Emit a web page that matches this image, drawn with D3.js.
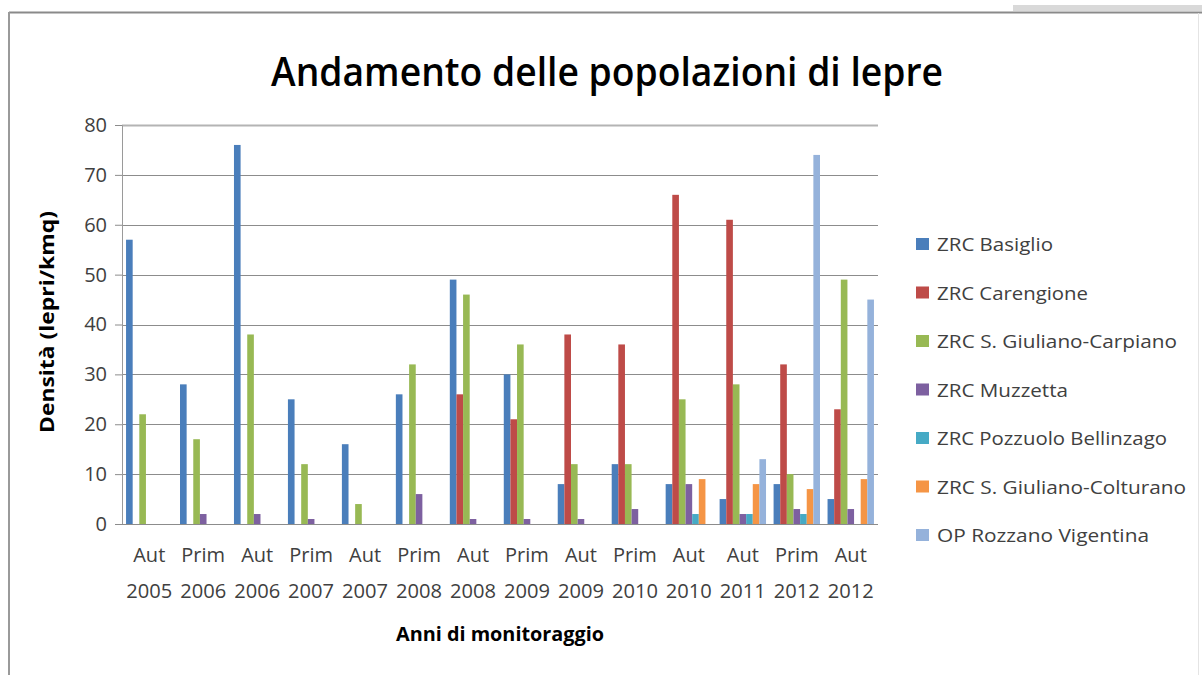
<!DOCTYPE html>
<html>
<head>
<meta charset="utf-8">
<script src="https://cdn.jsdelivr.net/npm/d3@7"></script>
<style>
  html, body { margin: 0; padding: 0; background: #ffffff; }
  svg { display: block; }
  text { font-family: "Open Sans", "Noto Sans", sans-serif; }
</style>
</head>
<body>
<svg id="chart" width="1202" height="675"></svg>
<script>
// ---- data ----
const seasons = ["Aut","Prim","Aut","Prim","Aut","Prim","Aut","Prim","Aut","Prim","Aut","Aut","Prim","Aut"];
const years   = ["2005","2006","2006","2007","2007","2008","2008","2009","2009","2010","2010","2011","2012","2012"];
const seriesNames = [
  "ZRC Basiglio",
  "ZRC Carengione",
  "ZRC S. Giuliano-Carpiano",
  "ZRC Muzzetta",
  "ZRC Pozzuolo Bellinzago",
  "ZRC S. Giuliano-Colturano",
  "OP Rozzano Vigentina"
];
const basiglio   = [57,28,76,25,16,26,49,30, 8,12, 8, 5, 8, 5];
const carengione = [ 0, 0, 0, 0, 0, 0,26,21,38,36,66,61,32,23];
const carpiano   = [22,17,38,12, 4,32,46,36,12,12,25,28,10,49];
const muzzetta   = [ 0, 2, 2, 1, 0, 6, 1, 1, 1, 3, 8, 2, 3, 3];
const pozzuolo   = [ 0, 0, 0, 0, 0, 0, 0, 0, 0, 0, 2, 2, 2, 0];
const colturano  = [ 0, 0, 0, 0, 0, 0, 0, 0, 0, 0, 9, 8, 7, 9];
const rozzano    = [ 0, 0, 0, 0, 0, 0, 0, 0, 0, 0, 0,13,74,45];
const yTicks = [0,10,20,30,40,50,60,70,80];

const seriesValues = [basiglio, carengione, carpiano, muzzetta, pozzuolo, colturano, rozzano];
const colors = ["#4A7EBB","#BE4B48","#98B954","#7D60A0","#46AAC5","#F59545","#95B2DB"];

// ---- layout ----
const svg = d3.select("#chart");
const plot = { left: 122, right: 878, top: 125, bottom: 524 };

// frame
svg.append("rect").attr("x", 1013).attr("y", 5).attr("width", 189).attr("height", 6).attr("fill", "#d9d9d9");
svg.append("line").attr("x1", 9).attr("x2", 1202).attr("y1", 12.5).attr("y2", 12.5).attr("stroke", "#8a8a8a").attr("stroke-width", 2);
svg.append("line").attr("x1", 9).attr("x2", 9).attr("y1", 12).attr("y2", 675).attr("stroke", "#9a9a9a").attr("stroke-width", 2);
svg.append("line").attr("x1", 1198.5).attr("x2", 1198.5).attr("y1", 13).attr("y2", 675).attr("stroke", "#e4e4e4").attr("stroke-width", 1);

const indices = d3.range(seasons.length);
const x0 = d3.scaleBand().domain(indices).range([plot.left, plot.right]).paddingInner(0.14).paddingOuter(0.075);
const x1 = d3.scaleBand().domain(d3.range(seriesNames.length)).range([0, x0.bandwidth()]);
const y = d3.scaleLinear().domain([0, 80]).range([plot.bottom, plot.top]);

// gridlines
svg.append("g").selectAll("line").data(yTicks.filter(t => t > 0)).join("line")
  .attr("x1", plot.left).attr("x2", plot.right)
  .attr("y1", d => Math.round(y(d)) + 0.5).attr("y2", d => Math.round(y(d)) + 0.5)
  .attr("stroke", d => d === 80 ? "#b4b4b4" : "#8c8c8c")
  .attr("stroke-width", d => d === 80 ? 2 : 1);

// y axis
const yAxis = d3.axisLeft(y).tickValues(yTicks).tickSize(7).tickPadding(8);
const gy = svg.append("g").attr("transform", `translate(${plot.left},0)`).call(yAxis);
gy.select(".domain").attr("stroke", "#9a9a9a");
gy.selectAll(".tick line").attr("stroke", "#8c8c8c");
gy.selectAll(".tick text").attr("font-size", 20).attr("fill", "#404040")
  .attr("font-family", "'Open Sans', sans-serif");

// bars
const groups = svg.append("g").selectAll("g").data(indices).join("g")
  .attr("transform", i => `translate(${x0(i)},0)`);
groups.selectAll("rect")
  .data(i => seriesValues.map((vals, s) => ({ s, v: vals[i] })))
  .join("rect")
  .filter(d => d.v > 0)
  .attr("x", d => x1(d.s))
  .attr("width", x1.bandwidth())
  .attr("y", d => y(d.v))
  .attr("height", d => y(0) - y(d.v))
  .attr("fill", d => colors[d.s]);

// x axis baseline
svg.append("line").attr("x1", plot.left).attr("x2", plot.right)
  .attr("y1", plot.bottom + 0.5).attr("y2", plot.bottom + 0.5).attr("stroke", "#8c8c8c");

// x tick labels (two lines)
const xl = svg.append("g");
xl.selectAll("text.season").data(indices).join("text").attr("class", "season")
  .attr("x", i => x0(i) + x0.bandwidth() / 2).attr("y", 562)
  .attr("text-anchor", "middle").attr("font-size", 20).attr("fill", "#404040")
  .text(i => seasons[i]);
xl.selectAll("text.year").data(indices).join("text").attr("class", "year")
  .attr("x", i => x0(i) + x0.bandwidth() / 2).attr("y", 598)
  .attr("text-anchor", "middle").attr("font-size", 20).attr("fill", "#404040")
  .attr("textLength", 46).attr("lengthAdjust", "spacingAndGlyphs")
  .text(i => years[i]);

// title
svg.append("text").attr("x", 607).attr("y", 86).attr("text-anchor", "middle")
  .attr("font-size", 40).attr("font-weight", 600).attr("fill", "#000")
  .attr("textLength", 672).attr("lengthAdjust", "spacingAndGlyphs")
  .text("Andamento delle popolazioni di lepre");

// axis titles
svg.append("text").attr("x", 500).attr("y", 641).attr("text-anchor", "middle")
  .attr("font-size", 19).attr("font-weight", "bold").attr("fill", "#000")
  .attr("textLength", 208).attr("lengthAdjust", "spacingAndGlyphs")
  .text("Anni di monitoraggio");
svg.append("text").attr("transform", "translate(54,322) rotate(-90)").attr("text-anchor", "middle")
  .attr("font-size", 20).attr("font-weight", "bold").attr("fill", "#000")
  .attr("textLength", 222).attr("lengthAdjust", "spacingAndGlyphs")
  .text("Densità (lepri/kmq)");

// legend
const legendWidths = [116, 151, 240, 131, 230, 249, 212];
const leg = svg.append("g").selectAll("g").data(seriesNames).join("g")
  .attr("transform", (d, i) => `translate(916,${244 + i * 48.5})`);
leg.append("rect").attr("x", 0).attr("y", -6).attr("width", 13).attr("height", 12)
  .attr("fill", (d, i) => colors[i]);
leg.append("text").attr("x", 21).attr("y", 7).attr("font-size", 19).attr("fill", "#404040")
  .attr("textLength", (d, i) => legendWidths[i]).attr("lengthAdjust", "spacingAndGlyphs")
  .text(d => d);
</script>
</body>
</html>
